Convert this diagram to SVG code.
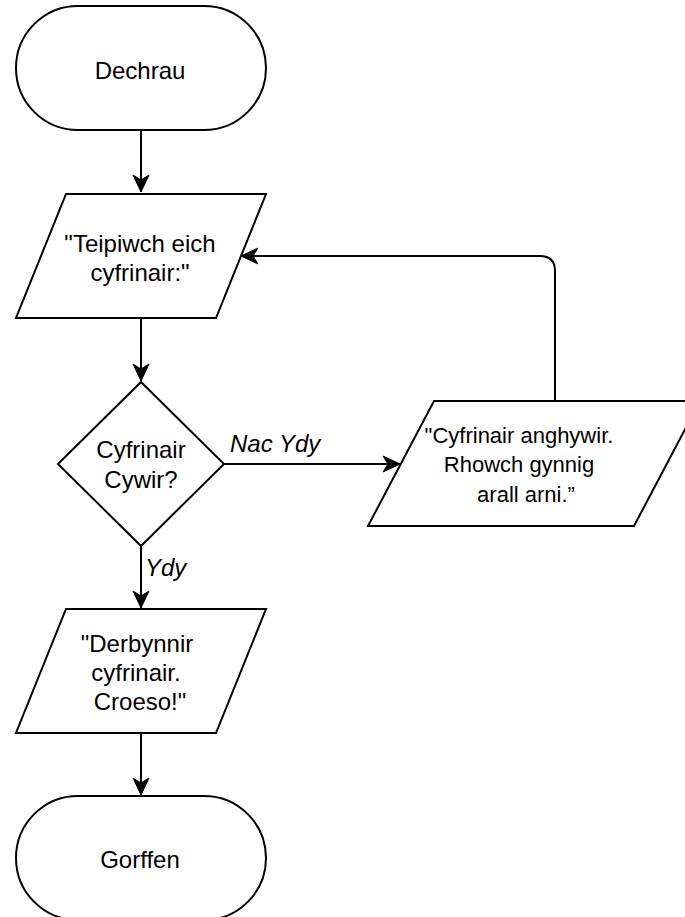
<svg xmlns="http://www.w3.org/2000/svg" width="685" height="917" viewBox="0 0 685 917">
  <style>
    .shape { fill: #ffffff; stroke: #000000; stroke-width: 2; stroke-linejoin: miter; }
    .edge { fill: none; stroke: #000000; stroke-width: 2; }
    .label { font-family: "Liberation Sans", Arial, Helvetica, sans-serif; font-size: 24px; fill: #000000; text-anchor: middle; }
    .small { font-size: 22px; }
    .edge-label { font-family: "Liberation Sans", Arial, Helvetica, sans-serif; font-size: 24px; font-style: italic; fill: #000000; }
  </style>
  <defs>
    <marker id="arrow" markerUnits="userSpaceOnUse" markerWidth="20" markerHeight="20" viewBox="-18 -9 20 18" refX="0" refY="0" orient="auto">
      <path d="M0,0 L-17,-8 L-12,0 L-17,8 Z" fill="#000000" stroke="#000000" stroke-width="1"/>
    </marker>
  </defs>
  <rect width="685" height="917" fill="#ffffff"/>

  <!-- connectors -->
  <g id="connectors">
    <path class="edge" d="M141,130 V192" marker-end="url(#arrow)"/>
    <path class="edge" d="M141,318 V381" marker-end="url(#arrow)"/>
    <path class="edge" d="M224,464 H400" marker-end="url(#arrow)"/>
    <path class="edge" d="M141,546 V608" marker-end="url(#arrow)"/>
    <path class="edge" d="M141,733 V795" marker-end="url(#arrow)"/>
    <path class="edge" d="M555,401 V271 Q555,256 540,256 H241" marker-end="url(#arrow)"/>
    <text class="edge-label" x="230" y="452">Nac Ydy</text>
    <text class="edge-label" x="145" y="576">Ydy</text>
  </g>

  <!-- start terminator -->
  <g id="start">
    <rect class="shape" x="16" y="6" width="250" height="124" rx="62" ry="62"/>
    <text class="label" x="140" y="79">Dechrau</text>
  </g>

  <!-- password prompt -->
  <g id="prompt">
    <polygon class="shape" points="66,194 266,194 216,318 16,318"/>
    <text class="label" x="140" y="252">"Teipiwch eich</text>
    <text class="label" x="140" y="281">cyfrinair:"</text>
  </g>

  <!-- decision -->
  <g id="check">
    <polygon class="shape" points="141,382 224,464 141,546 58,464"/>
    <text class="label" x="141" y="458">Cyfrinair</text>
    <text class="label" x="141" y="488">Cywir?</text>
  </g>

  <!-- wrong password output -->
  <g id="retry">
    <polygon class="shape" points="434,401 700,401 634,526 368,526"/>
    <text class="label small" x="519" y="443">"Cyfrinair anghywir.</text>
    <text class="label small" x="519" y="472">Rhowch gynnig</text>
    <text class="label small" x="526" y="502">arall arni.”</text>
  </g>

  <!-- accepted output -->
  <g id="accepted">
    <polygon class="shape" points="66,609 266,609 216,733 16,733"/>
    <text class="label" x="137" y="652">"Derbynnir</text>
    <text class="label" x="136" y="681">cyfrinair.</text>
    <text class="label" x="140" y="710">Croeso!"</text>
  </g>

  <!-- end terminator -->
  <g id="end">
    <rect class="shape" x="16" y="796" width="250" height="124" rx="62" ry="62"/>
    <text class="label" x="140" y="868">Gorffen</text>
  </g>
</svg>
